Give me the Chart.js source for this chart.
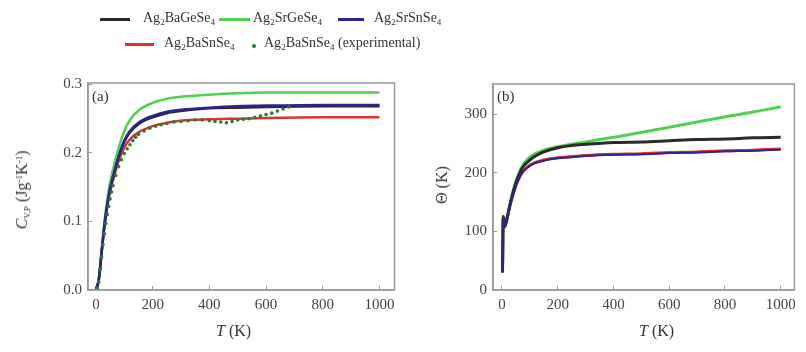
<!DOCTYPE html>
<html>
<head>
<meta charset="utf-8">
<script src="https://cdn.jsdelivr.net/npm/chart.js@4.4.1/dist/chart.umd.min.js"></script>
<style>
  html, body { margin: 0; padding: 0; background: #fff; }
  body { width: 806px; height: 352px; position: relative; overflow: hidden;
         font-family: "Liberation Serif", "DejaVu Serif", serif; color: #333; }
  .abs { position: absolute; white-space: nowrap; }
  .sw { position: absolute; height: 3px; }
  .lbl { font-size: 14px; line-height: 16px; }
  sub { font-size: 9px; vertical-align: -3px; line-height: 0; }
  sup { font-size: 9px; vertical-align: 5px; line-height: 0; }
  .axt { font-size: 16px; }
  .rot { transform: translate(-50%, -50%) rotate(-90deg); }
  canvas { position: absolute; top: 0; }
</style>
</head>
<body>
<canvas id="chartA" width="405" height="352" style="left:0"></canvas>
<canvas id="chartB" width="401" height="352" style="left:405px"></canvas>

<div id="legend"></div>

<div class="abs axt" style="left:216px; top:322px;"><i>T</i> (K)</div>
<div class="abs axt" style="left:639px; top:322px;"><i>T</i> (K)</div>
<div class="abs axt rot" style="left:22px; top:190px;"><i>C</i><sub>V,P</sub> (Jg<sup>-1</sup>K<sup>-1</sup>)</div>
<div class="abs axt rot" style="left:442px; top:185px;">&Theta; (K)</div>
<div class="abs lbl" style="left:92px; top:88px; font-size:15px;">(a)</div>
<div class="abs lbl" style="left:497px; top:88px; font-size:15px;">(b)</div>

<script>
// series names (html, for subscripts) and colours
const seriesNames = ['Ag<sub>2</sub>BaGeSe<sub>4</sub>', 'Ag<sub>2</sub>SrGeSe<sub>4</sub>',
                     'Ag<sub>2</sub>SrSnSe<sub>4</sub>', 'Ag<sub>2</sub>BaSnSe<sub>4</sub>'];
const expName = 'Ag<sub>2</sub>BaSnSe<sub>4</sub> (experimental)';
const seriesColors = ['#2a2a2a', '#4fd24f', '#2c2490', '#d83232'];
const expColor = '#2f7a2f';

// (a) heat capacity, J g^-1 K^-1
const tempA = [0, 10, 20, 30, 40, 50, 60, 80, 100, 120, 150, 200, 250, 300, 400, 500, 600, 800, 1000];
const cvBaGe = [0, .015, .055, .094, .124, .147, .164, .194, .216, .230, .242, .252, .258, .261, .265, .266, .267, .268, .268];
const cvSrGe = [0, .016, .058, .100, .132, .157, .176, .207, .232, .248, .262, .273, .279, .282, .285, .287, .288, .288, .288];
const cvSrSn = [0, .015, .055, .095, .125, .148, .165, .195, .218, .232, .244, .254, .260, .263, .266, .268, .269, .270, .270];
const cvBaSn = [0, .015, .054, .093, .122, .144, .160, .188, .208, .220, .230, .239, .244, .247, .249, .250, .251, .252, .252];

const expT = [5, 10, 15, 20, 25, 30, 35, 40, 45, 50, 55, 60, 70, 80, 90, 100, 110, 120, 130, 140, 150, 170, 190,
              210, 230, 250, 275, 300, 325, 350, 375, 400, 420, 440, 460, 480, 500, 520, 540, 560, 580, 600,
              620, 640, 660, 680];
const expCv = [.002, .012, .030, .048, .066, .082, .097, .110, .122, .133, .143, .152, .167, .180, .190, .199, .206,
               .212, .218, .223, .227, .232, .236, .239, .241, .243, .245, .246, .247, .248, .248, .247, .246, .245,
               .244, .246, .248, .249, .250, .252, .254, .256, .258, .261, .264, .267];

// (b) Debye temperature, K
const tempB = [2, 5, 10, 20, 30, 40, 50, 60, 70, 80, 100, 120, 150, 200, 250, 300, 400, 500, 600, 700, 800, 900, 1000];
const thBaGe = [30, 125, 108, 126, 148, 167, 183, 196, 206, 213, 222, 229, 236, 243, 247, 249, 252, 253, 255, 257, 258, 260, 261];
const thSrGe = [30, 125, 108, 126, 149, 169, 185, 198, 209, 217, 227, 233, 239, 245, 249, 253, 261, 269, 278, 287, 296, 304, 313];
const thSrSn = [30, 125, 108, 125, 145, 162, 177, 189, 198, 204, 212, 217, 221, 225, 227, 229, 231, 232, 234, 235, 237, 238, 240];
const thBaSn = [31, 126, 109, 126, 146, 163, 178, 190, 199, 205, 213, 218, 222, 226, 228, 230, 232, 233, 235, 236, 238, 239, 241];

// legend (html so that subscripts work)
function buildLegend() {
    const lg = document.getElementById('legend');
    const items = [
        { i: 0, x: 100, y: 10, sw: 30, tx: 143 },
        { i: 1, x: 219, y: 10, sw: 31, tx: 253 },
        { i: 2, x: 338, y: 10, sw: 26, tx: 374 },
        { i: 3, x: 125, y: 35, sw: 29, tx: 164 }
    ];
    items.forEach(it => {
        const s = document.createElement('div');
        s.className = 'sw';
        s.style.cssText = `left:${it.x}px; top:${it.y + 8}px; width:${it.sw}px; background:${seriesColors[it.i]}`;
        lg.appendChild(s);
        const t = document.createElement('div');
        t.className = 'abs lbl';
        t.style.cssText = `left:${it.tx}px; top:${it.y}px`;
        t.innerHTML = seriesNames[it.i];
        lg.appendChild(t);
    });
    const d = document.createElement('div');
    d.className = 'abs';
    d.style.cssText = `left:252px; top:44px; width:4px; height:4px; border-radius:2px; background:${expColor}`;
    lg.appendChild(d);
    const t = document.createElement('div');
    t.className = 'abs lbl';
    t.style.cssText = 'left:264px; top:35px';
    t.innerHTML = expName;
    lg.appendChild(t);
}
buildLegend();

// box round the plot area
const frame = {
    id: 'frame',
    afterDraw(chart) {
        const a = chart.chartArea, ctx = chart.ctx;
        ctx.save();
        ctx.strokeStyle = '#999';
        ctx.lineWidth = 1.5;
        ctx.strokeRect(a.left, a.top, a.right - a.left, a.bottom - a.top);
        ctx.restore();
    }
};

function toXY(xs, ys) {
    return xs.map((x, k) => ({ x: x, y: ys[k] }));
}

function lineSet(xs, ys, i, w) {
    return {
        data: toXY(xs, ys),
        borderColor: seriesColors[i],
        borderWidth: w,
        pointRadius: 0,
        cubicInterpolationMode: 'monotone',
        fill: false
    };
}

function axes(xmin, xmax, ymin, ymax, ystep, yfmt) {
    const tickFont = { family: '"Liberation Serif", serif', size: 15 };
    return {
        x: {
            type: 'linear', min: xmin, max: xmax,
            afterFit: s => { s.height = 62; },
            ticks: { stepSize: 200, includeBounds: false, color: '#444', font: tickFont, padding: 10, maxRotation: 0,
                     callback: v => String(v) },
            grid: { drawOnChartArea: false, drawTicks: true, tickLength: -4, color: '#999' },
            border: { color: '#999', width: 1.5 }
        },
        y: {
            type: 'linear', min: ymin, max: ymax,
            afterFit: s => { s.width = 88; },
            ticks: { stepSize: ystep, includeBounds: false, color: '#444', font: tickFont, padding: 10,
                     callback: yfmt },
            grid: { drawOnChartArea: false, drawTicks: true, tickLength: -4, color: '#999' },
            border: { color: '#999', width: 1.5 }
        }
    };
}

const common = {
    responsive: false,
    animation: false,
    plugins: { legend: { display: false }, tooltip: { enabled: false } }
};

// first dataset is drawn on top
new Chart(document.getElementById('chartA'), {
    type: 'line',
    data: {
        datasets: [
            {
                data: toXY(expT, expCv),
                showLine: false,
                pointRadius: 1.8,
                pointBackgroundColor: expColor,
                pointBorderColor: expColor,
                borderWidth: 0
            },
            lineSet(tempA, cvSrSn, 2, 2.5),
            lineSet(tempA, cvBaGe, 0, 2.5),
            lineSet(tempA, cvSrGe, 1, 2.5),
            lineSet(tempA, cvBaSn, 3, 2.5)
        ]
    },
    options: {
        ...common,
        layout: { padding: { left: 0, right: 10, top: 83, bottom: 0 } },
        scales: axes(-28, 1053, 0, 0.302, 0.1, v => v.toFixed(1))
    },
    plugins: [frame]
});

new Chart(document.getElementById('chartB'), {
    type: 'line',
    data: {
        datasets: [
            lineSet(tempB, thSrSn, 2, 2),
            lineSet(tempB, thBaGe, 0, 3),
            lineSet(tempB, thSrGe, 1, 3),
            lineSet(tempB, thBaSn, 3, 3)
        ]
    },
    options: {
        ...common,
        layout: { padding: { left: 0, right: 6, top: 84, bottom: 0 } },
        scales: axes(-32, 1049, 0, 352, 100, v => v.toFixed(0))
    },
    plugins: [frame]
});
</script>
</body>
</html>
